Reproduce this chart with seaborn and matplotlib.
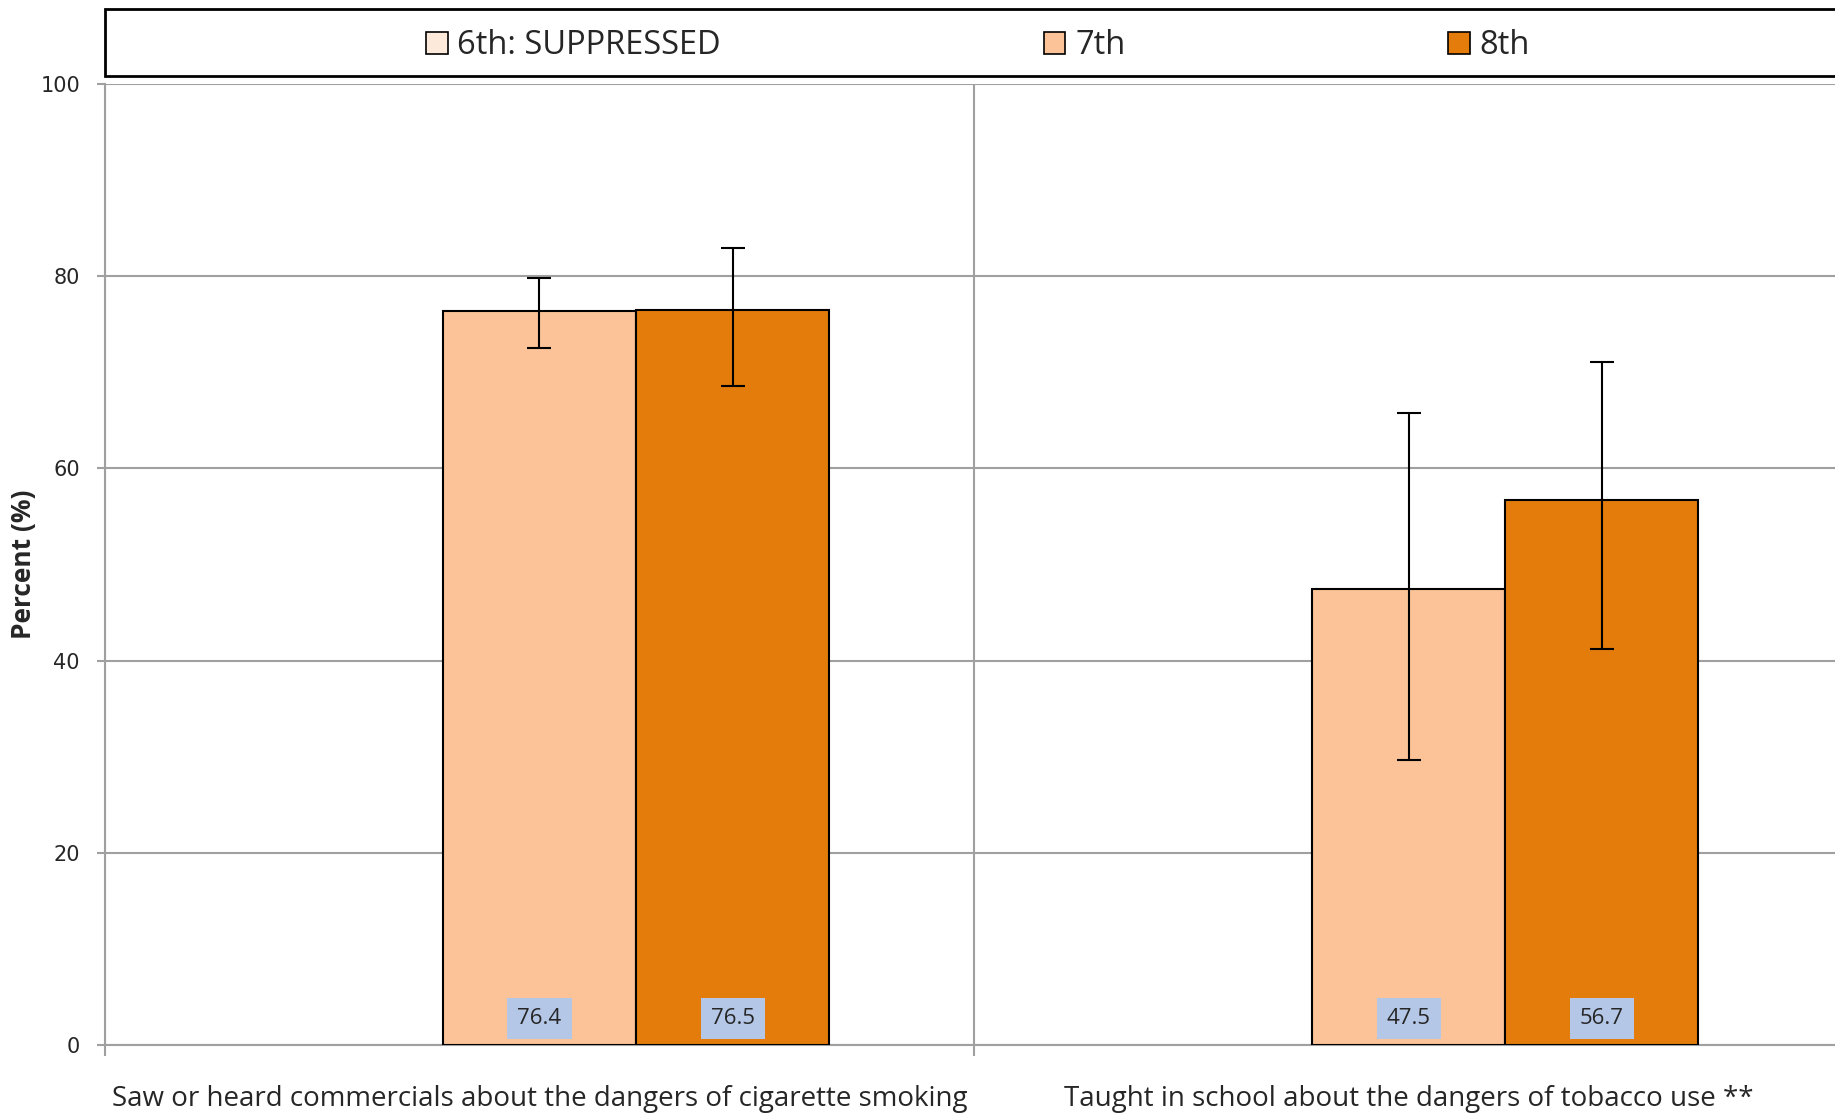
# Grouped bar chart: tobacco prevention messages by grade, with confidence intervals
import matplotlib
matplotlib.use("Agg")
import matplotlib.pyplot as plt
from matplotlib.patches import Patch, Rectangle
import numpy as np
import pandas as pd
import seaborn as sns

categories = [
    "Saw or heard commercials about the dangers of cigarette smoking",
    "Taught in school about the dangers of tobacco use **",
]
grades = ["6th: SUPPRESSED", "7th", "8th"]

pct_7th = [76.4, 47.5]
pct_8th = [76.5, 56.7]
lo_7th = [72.5, 29.7]
hi_7th = [79.8, 65.8]
lo_8th = [68.6, 41.2]
hi_8th = [82.9, 71.1]

colors = {"6th: SUPPRESSED": "#FDE9D9", "7th": "#FBC397", "8th": "#E37C0B"}

# 6th grade is suppressed, so only 7th and 8th rows carry values
rows = []
for i, cat in enumerate(categories):
    rows.append({"category": cat, "grade": "7th", "pct": pct_7th[i], "lo": lo_7th[i], "hi": hi_7th[i]})
    rows.append({"category": cat, "grade": "8th", "pct": pct_8th[i], "lo": lo_8th[i], "hi": hi_8th[i]})
df = pd.DataFrame(rows)

sns.set_style("white")
plt.rcParams["font.family"] = ["Open Sans", "DejaVu Sans"]

fig = plt.figure(figsize=(18.35, 11.18), dpi=100)
ax = fig.add_axes([0.0572, 0.0653, 0.9472, 0.8596])

sns.barplot(data=df, x="category", y="pct", hue="grade", hue_order=grades,
            order=categories, palette=colors, saturation=1, width=0.667, errorbar=None,
            edgecolor="black", linewidth=1.5, legend=False, ax=ax, zorder=3)

# error bars and value labels placed on the seaborn bars
bars = [p for p in ax.patches if np.isfinite(p.get_height()) and p.get_height() > 0]
bars.sort(key=lambda p: p.get_x())
df_sorted = df.sort_values(["category", "grade"],
                           key=lambda s: s.map({c: i for i, c in enumerate(categories)})
                           if s.name == "category" else s).reset_index(drop=True)
for bar, (_, row) in zip(bars, df_sorted.iterrows()):
    xc = bar.get_x() + bar.get_width() / 2
    ax.errorbar(xc, row["pct"], yerr=[[row["pct"] - row["lo"]], [row["hi"] - row["pct"]]],
                fmt="none", ecolor="black", elinewidth=1.5, capsize=8.5, capthick=1.5, zorder=4)
    ax.text(xc, 2.8, f"{row['pct']:.1f}", ha="center", va="center", fontsize=16,
            family=["Open Sans", "DejaVu Sans"], zorder=5,
            bbox=dict(boxstyle="square,pad=0.45", facecolor="#B4C7E7", edgecolor="none"))

ax.set_xlim(-0.5, 1.5)
ax.set_ylim(0, 100)
ax.set_yticks([0, 20, 40, 60, 80, 100])
ax.set_yticklabels(["0", "20", "40", "60", "80", "100"], family="DejaVu Sans", fontsize=15)
ax.tick_params(axis="y", which="major", length=6, width=1.5, color="#A0A0A0", pad=12, left=True)
ax.tick_params(axis="x", which="major", length=0, labelsize=20, pad=29)
ax.set_xticks([-0.5, 0.5, 1.5], minor=True)
ax.tick_params(axis="x", which="minor", length=8, width=1.5, color="#A0A0A0", bottom=True)
ax.grid(axis="y", color="#A0A0A0", linewidth=1.5, zorder=0)
ax.grid(axis="x", which="minor", color="#A0A0A0", linewidth=1.5, zorder=0)
ax.grid(axis="x", which="major", visible=False)
ax.set_axisbelow(True)

for side in ["top", "right"]:
    ax.spines[side].set_visible(False)
for side in ["left", "bottom"]:
    ax.spines[side].set_color("#A0A0A0")
    ax.spines[side].set_linewidth(1.5)

ax.set_xlabel("")
ax.set_ylabel("Percent (%)", fontsize=19, fontweight="bold")
ax.yaxis.set_label_coords(-0.039, 0.5)

# legend with its own frame strip across the top
fig.patches.append(Rectangle((0.0572, 0.932), 1.0, 0.060, transform=fig.transFigure,
                             facecolor="white", edgecolor="black", linewidth=2, zorder=1))
handles = [Patch(facecolor=colors[g], edgecolor="black", linewidth=1.2) for g in grades]
fig.legend(handles, grades, loc="center", bbox_to_anchor=(0.533, 0.959), ncol=3,
           frameon=False, fontsize=23.5, handlelength=0.65, handleheight=0.65,
           handletextpad=0.3, columnspacing=9.9)

fig.savefig("out.png", dpi=100)
